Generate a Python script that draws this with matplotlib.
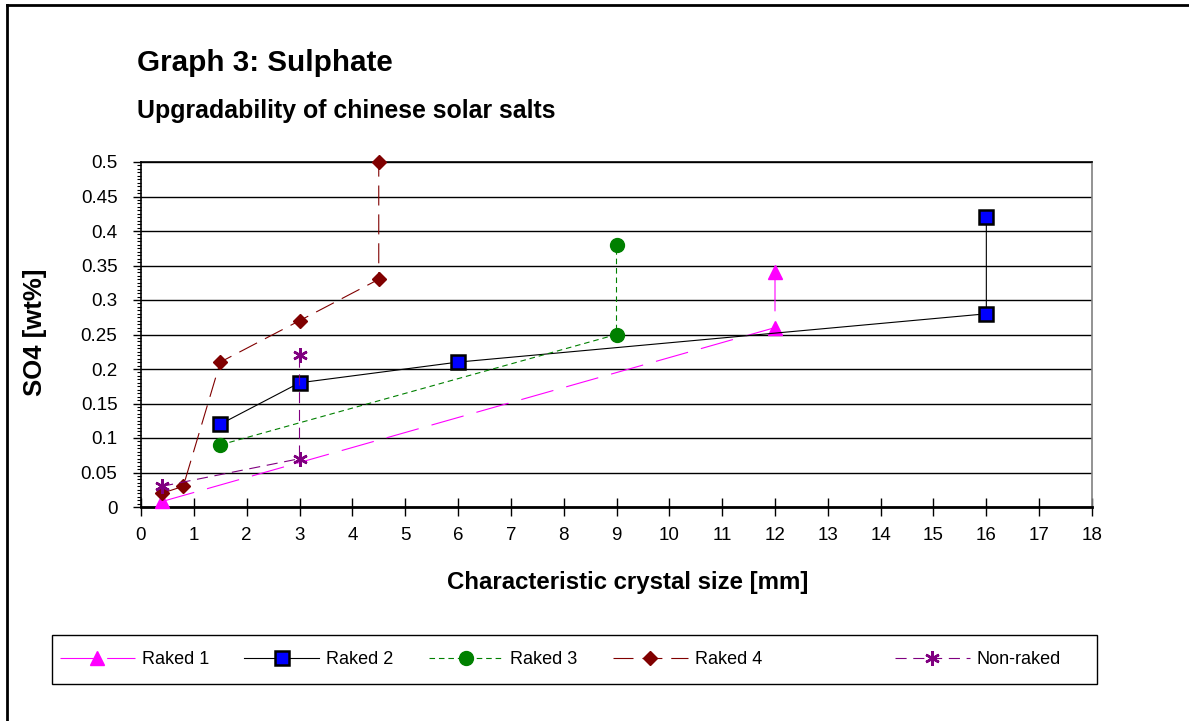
import matplotlib
matplotlib.use("Agg")
import matplotlib.pyplot as plt
from matplotlib.lines import Line2D
from matplotlib.patches import Rectangle
from matplotlib.ticker import MultipleLocator

plt.rcParams['font.family'] = ['Liberation Sans', 'DejaVu Sans']

# ---- data ----
raked1_x = [0.4, 12, 12]
raked1_y = [0.008, 0.26, 0.34]
raked2_x = [1.5, 3, 6, 16, 16]
raked2_y = [0.12, 0.18, 0.21, 0.28, 0.42]
raked3_x = [1.5, 9, 9]
raked3_y = [0.09, 0.25, 0.38]
raked4_x = [0.4, 0.8, 1.5, 3, 4.5, 4.5]
raked4_y = [0.02, 0.03, 0.21, 0.27, 0.33, 0.50]
nonraked_x = [0.4, 3, 3]
nonraked_y = [0.03, 0.07, 0.22]

labels = ["Raked 1", "Raked 2", "Raked 3", "Raked 4", "Non-raked"]
x_ticks = list(range(0, 19))
y_ticks = [0, 0.05, 0.1, 0.15, 0.2, 0.25, 0.3, 0.35, 0.4, 0.45, 0.5]
y_ticklabels = ["0", "0.05", "0.1", "0.15", "0.2", "0.25", "0.3", "0.35", "0.4", "0.45", "0.5"]

W, H = 1189, 721
fig = plt.figure(figsize=(W / 100, H / 100), dpi=100)
ax = fig.add_axes([141 / W, 1 - 507 / H, (1092 - 141) / W, (507 - 162) / H])

lw = 0.8
series = [
    (raked1_x, raked1_y, dict(color='#FF00FF', dashes=(30, 12), marker='^', ms=10,
                               mfc='#FF00FF', mec='#FF00FF')),
    (raked2_x, raked2_y, dict(color='black', linestyle='-', marker='s', ms=9.5,
                               mfc='#0000FF', mec='black', mew=1.8)),
    (raked3_x, raked3_y, dict(color='#008000', dashes=(5, 3.5), marker='o', ms=10,
                               mfc='#008000', mec='#008000')),
    (raked4_x, raked4_y, dict(color='#800000', dashes=(18, 8), marker='D', ms=7.5,
                               mfc='#800000', mec='#800000')),
    (nonraked_x, nonraked_y, dict(color='#800080', dashes=(10, 6), marker=(6, 2, 0), ms=10.5,
                                   mfc='#800080', mec='#800080', mew=1.8)),
]
handles = []
for (xs, ys, kw), lab in zip(series, labels):
    h, = ax.plot(xs, ys, lw=lw, label=lab, clip_on=False, zorder=3, **kw)
    handles.append(h)

ax.set_xlim(0, 18)
ax.set_ylim(0, 0.5)
ax.set_xticks(x_ticks)
ax.set_xticklabels([str(v) for v in x_ticks])
ax.set_yticks(y_ticks)
ax.set_yticklabels(y_ticklabels)
ax.yaxis.set_minor_locator(MultipleLocator(0.005))
ax.tick_params(axis='y', which='major', direction='out', length=6, width=1, pad=11, labelsize=13.5)
ax.tick_params(axis='y', which='minor', direction='out', length=3, width=0.8)
ax.tick_params(axis='x', which='major', direction='inout', length=13, width=1, pad=8, labelsize=13.5)
ax.grid(axis='y', which='major', color='black', lw=1)
ax.set_axisbelow(True)
ax.spines['left'].set_linewidth(1.2)
ax.spines['bottom'].set_linewidth(2)
ax.spines['top'].set_linewidth(1.2)
ax.spines['right'].set_color('#808080')
ax.spines['right'].set_linewidth(1.2)

fig.text(137 / W, 1 - 63 / H, "Graph 3: Sulphate", fontsize=21.3, fontweight='bold', va='center', ha='left')
fig.text(137 / W, 1 - 111 / H, "Upgradability of chinese solar salts", fontsize=17.9, fontweight='bold',
         va='center', ha='left')
fig.text(628 / W, 1 - 582 / H, "Characteristic crystal size [mm]", fontsize=17.3, fontweight='bold',
         va='center', ha='center')
fig.text(35 / W, 1 - 332 / H, "SO4 [wt%]", fontsize=18.5, fontweight='bold', va='center', ha='center',
         rotation=90)

# legend: frame + two groups of entries
yc = 1 - 659.5 / H
leg_kw = dict(loc='center left', fontsize=13, frameon=False, handlelength=4.15,
              handletextpad=0.39, columnspacing=1.94, borderaxespad=0, borderpad=0)
fig.legend(handles[:4], labels[:4], ncol=4, bbox_to_anchor=(60 / W, yc), **leg_kw)
fig.legend(handles[4:], labels[4:], ncol=1, bbox_to_anchor=(895 / W, yc), **leg_kw)
fig.add_artist(Rectangle((52 / W, 1 - 684 / H), (1097 - 52) / W, 49 / H, transform=fig.transFigure,
                         fill=False, edgecolor='black', lw=1.0))

# outer frame (left and top edges visible)
fig.add_artist(Line2D([7 / W, 7 / W], [0, 1 - 5 / H], transform=fig.transFigure, color='black', lw=2))
fig.add_artist(Line2D([7 / W, 1], [1 - 5 / H, 1 - 5 / H], transform=fig.transFigure, color='black', lw=2))

fig.savefig("out.png", dpi=100)
